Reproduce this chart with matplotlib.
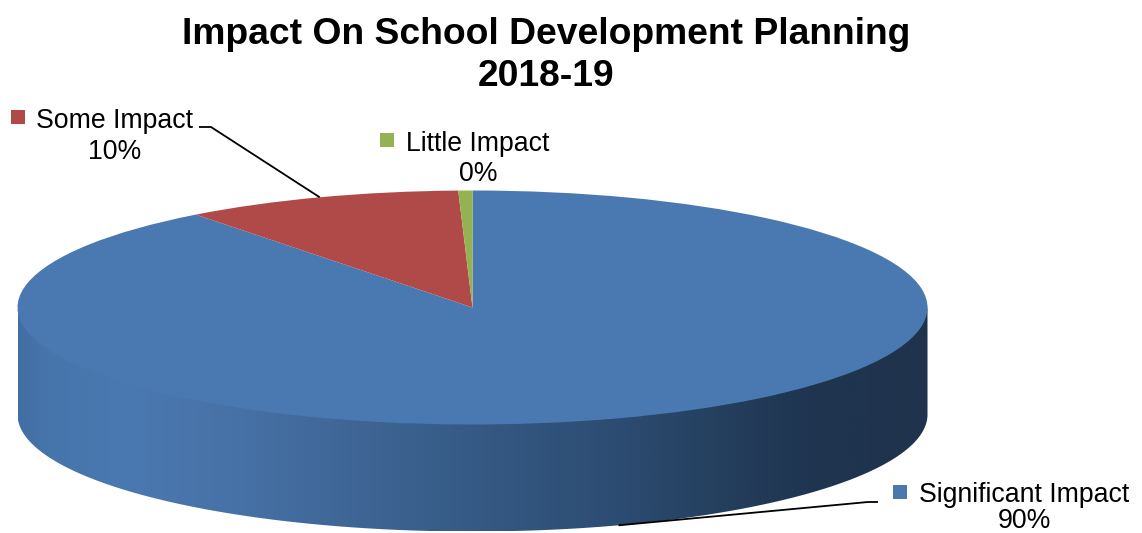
"""Excel style 3D pie: Impact On School Development Planning 2018-19."""
import numpy as np
import matplotlib
matplotlib.use("Agg")
import matplotlib.pyplot as plt
from matplotlib.colors import LinearSegmentedColormap
from matplotlib.patches import PathPatch
from matplotlib.path import Path

categories = ["Significant Impact", "Some Impact", "Little Impact"]
values = [89.6, 9.9, 0.5]
colors = ["#4A78B0", "#B04A48", "#95B252"]

title = "Impact On School Development Planning\n2018-19"

W, H = 1142, 533
# ellipse of the pie top, in pixels
cx, cy, rx, ry = 472.5, 307.5, 455, 117
depth = 107 / ry

plt.rcParams["font.family"] = ["Liberation Sans", "DejaVu Sans"]

fig = plt.figure(figsize=(W / 100, H / 100), dpi=100)
ax = fig.add_axes([0, 0, 1, 1])

# side wall first, a horizontal gradient clipped to the rim
# (runs a little under the top so no light seam shows)
t = np.linspace(np.pi, 2 * np.pi, 200)
rim_x = np.cos(t)
rim_y = np.sin(t)
verts = np.vstack([np.column_stack([rim_x, rim_y + 0.03]),
	np.column_stack([rim_x[::-1], rim_y[::-1] - depth])])
verts = np.vstack([verts, verts[0]])
codes = [Path.MOVETO] + [Path.LINETO] * (len(verts) - 2) + [Path.CLOSEPOLY]
side = PathPatch(Path(verts, codes), facecolor="none", edgecolor="none")
ax.add_patch(side)

side_cmap = LinearSegmentedColormap.from_list("side", [
	(0.0, "#426FA3"), (0.03, "#4675AC"), (0.12, "#4A78B0"), (0.25, "#4671A6"),
	(0.33, "#41699A"), (0.5, "#355A85"), (0.65, "#2D4D73"), (0.8, "#233C5A"),
	(0.87, "#1F3550"), (1.0, "#1F334D"),
])
grad = ax.imshow(np.linspace(0, 1, 512).reshape(1, -1), cmap=side_cmap, aspect="auto",
	extent=(-1, 1, -1 - depth, 0.03), zorder=1)
grad.set_clip_path(side)

ax.pie(values, colors=colors, startangle=90, counterclock=False, radius=1,
	wedgeprops={"linewidth": 0, "zorder": 2})

ax.set_aspect("auto")
ax.set_xlim(-cx / rx, (W - cx) / rx)
ax.set_ylim((cy - H) / ry, cy / ry)
ax.axis("off")

# leader lines start at the mid angle of their slice
fracs = np.asarray(values) / sum(values)
mids = (np.cumsum(fracs) - fracs / 2) * 2 * np.pi


def px(x, y):
	return (x - cx) / rx, (cy - y) / ry


mx, my = np.sin(mids[1]), np.cos(mids[1])
ax.plot([mx, px(211, 0)[0], px(199, 0)[0]], [my, px(0, 127)[1], px(0, 127)[1]],
	color="black", lw=1.3, zorder=3, solid_capstyle="butt")
mx, my = np.sin(mids[0]), np.cos(mids[0]) - depth
ax.plot([mx, px(868, 0)[0], px(878, 0)[0]], [my, px(0, 502)[1], px(0, 502)[1]],
	color="black", lw=1.3, zorder=3, solid_capstyle="butt")

# labels: (text centre x, first line y, second line y), key square x and y
label_pos = {
	"Significant Impact": (1024, 495, 521, 893, 485),
	"Some Impact": (115, 121, 152, 11, 110),
	"Little Impact": (478, 144, 174, 380, 133),
}
label_size = 19.2
for name, val, col in zip(categories, values, colors):
	tx, y1, y2, kx, ky = label_pos[name]
	fig.text(tx / W, 1 - y1 / H, name, ha="center", va="center", fontsize=label_size, color="black")
	fig.text(tx / W, 1 - y2 / H, f"{val:.0f}%", ha="center", va="center", fontsize=label_size, color="black")
	fig.patches.append(plt.Rectangle((kx / W, 1 - (ky + 14) / H), 14 / W, 14 / H,
		transform=fig.transFigure, facecolor=col, edgecolor="none"))

line1, line2 = title.split("\n")
fig.text(546 / W, 1 - 34 / H, line1, ha="center", va="center", fontsize=26.85, fontweight="bold", color="black")
fig.text(546 / W, 1 - 77 / H, line2, ha="center", va="center", fontsize=26.85, fontweight="bold", color="black")

fig.savefig("out.png", dpi=100, facecolor="white")
